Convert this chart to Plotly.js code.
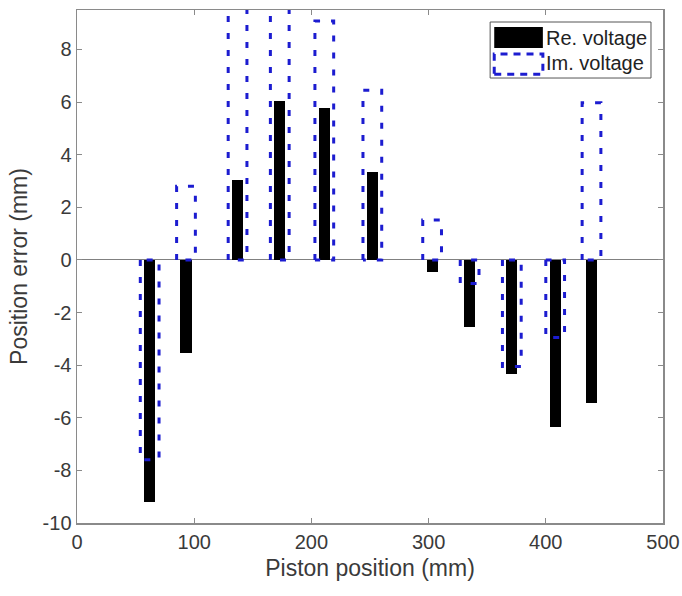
<!DOCTYPE html>
<html>
<head>
<meta charset="utf-8">
<script src="https://cdn.plot.ly/plotly-3.0.1.min.js"></script>
<style>html,body{margin:0;padding:0;background:#fff;}#chart{width:682px;height:596px;}</style>
</head>
<body>
<div id="chart"></div>
<script>
// Data
const pistonPosition = [62, 93, 137, 173, 211, 252, 303, 335, 371, 408, 439];
const reVoltage = [-9.2, -3.55, 3.05, 6.05, 5.78, 3.35, -0.45, -2.55, -4.35, -6.35, -5.45];
const imVoltage = [-7.6, 2.8, 9.6, 9.6, 9.08, 6.45, 1.52, -0.9, -4.05, -2.95, 5.97];
const seriesNames = ['Re. voltage', 'Im. voltage'];
const xTicks = [0, 100, 200, 300, 400, 500];
const yTicks = [-10, -8, -6, -4, -2, 0, 2, 4, 6, 8];

const reBarWidth = 9.5;   // mm
const imBarWidth = 16;    // mm

// Build dashed rectangle outlines for the Im. voltage bars from the data
const imX = [], imY = [];
pistonPosition.forEach((p, i) => {
  const h = imBarWidth / 2;
  const v = imVoltage[i];
  imX.push(p - h, p - h, p + h, p + h, p - h, null);
  imY.push(0, v, v, 0, 0, null);
});

const font = 'Liberation Sans, Arial, Helvetica, sans-serif';
const textColor = '#3a3a3a';
const blue = '#1c1cd0';

const traces = [
  {
    type: 'bar', name: seriesNames[0],
    x: pistonPosition, y: reVoltage,
    width: pistonPosition.map(() => reBarWidth),
    marker: {color: '#000000', line: {width: 0}},
    showlegend: false, hoverinfo: 'x+y'
  },
  {
    type: 'scatter', mode: 'lines', name: seriesNames[1],
    x: imX, y: imY,
    line: {color: blue, width: 3, dash: '6px,11px'},
    connectgaps: false, showlegend: false, hoverinfo: 'skip'
  }
];

const layout = {
  width: 682, height: 596,
  margin: {l: 77, r: 19, t: 10, b: 73},
  paper_bgcolor: '#ffffff', plot_bgcolor: '#ffffff',
  font: {family: font, color: textColor},
  showlegend: false,
  bargap: 0,
  xaxis: {
    range: [0, 500], tickvals: xTicks, ticktext: xTicks.map(String),
    ticks: 'inside', ticklen: 5, tickcolor: '#8a8a8a', tickwidth: 1,
    showline: true, linecolor: '#8a8a8a', linewidth: 1.5, mirror: 'ticks',
    showgrid: false, zeroline: false,
    tickfont: {size: 20, color: textColor, family: font},
    title: {text: 'Piston position (mm)', font: {size: 23, color: textColor, family: font}, standoff: 8}
  },
  yaxis: {
    range: [-10, 9.5], tickvals: yTicks, ticktext: yTicks.map(String),
    ticks: 'inside', ticklen: 5, tickcolor: '#8a8a8a', tickwidth: 1,
    showline: true, linecolor: '#8a8a8a', linewidth: 1.5, mirror: 'ticks',
    showgrid: false, zeroline: true, zerolinecolor: '#808080', zerolinewidth: 1,
    tickfont: {size: 20, color: textColor, family: font},
    title: {text: 'Position error (mm)', font: {size: 23, color: textColor, family: font}, standoff: 8}
  },
  shapes: [
    // legend frame
    {type: 'rect', xref: 'paper', yref: 'paper', x0: 0.705, x1: 0.9795, y0: 0.8674, y1: 0.9766,
     line: {color: '#555555', width: 1}, fillcolor: '#ffffff', layer: 'above'},
    // Re. voltage swatch
    {type: 'rect', xref: 'paper', yref: 'paper', x0: 0.712, x1: 0.795, y0: 0.9259, y1: 0.9669,
     line: {width: 0}, fillcolor: '#000000', layer: 'above'},
    // Im. voltage swatch (dashed)
    {type: 'rect', xref: 'paper', yref: 'paper', x0: 0.712, x1: 0.795, y0: 0.875, y1: 0.914,
     line: {color: blue, width: 3, dash: '7px,6px'}, fillcolor: 'rgba(0,0,0,0)', layer: 'above'}
  ],
  annotations: [
    {xref: 'paper', yref: 'paper', x: 0.797, y: 0.946, xanchor: 'left', yanchor: 'middle',
     text: seriesNames[0], showarrow: false, font: {size: 20, color: '#222', family: font}},
    {xref: 'paper', yref: 'paper', x: 0.797, y: 0.896, xanchor: 'left', yanchor: 'middle',
     text: seriesNames[1], showarrow: false, font: {size: 20, color: '#222', family: font}}
  ]
};

Plotly.newPlot('chart', traces, layout, {displayModeBar: false, staticPlot: true});
</script>
</body>
</html>
